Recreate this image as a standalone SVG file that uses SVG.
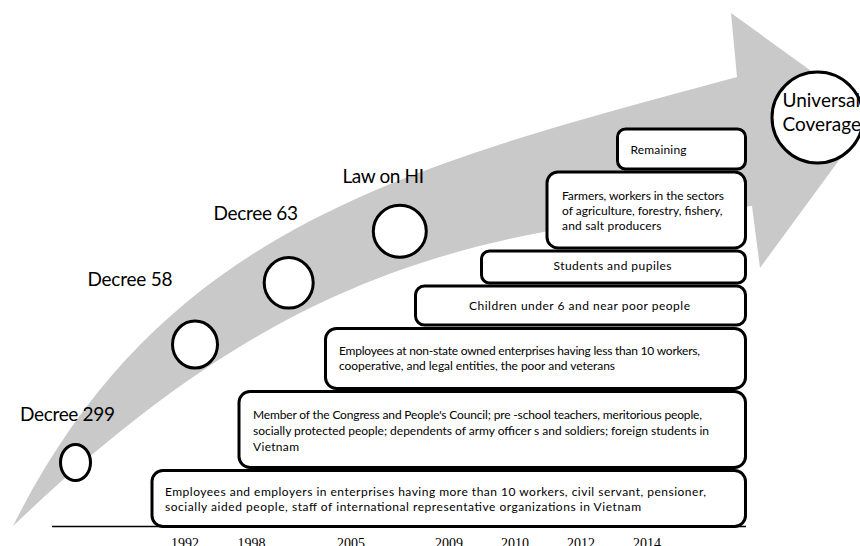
<svg xmlns="http://www.w3.org/2000/svg" width="860" height="546" viewBox="0 0 860 546">
  <style>
    .box { fill: #ffffff; stroke: #000000; stroke-width: 3; }
    .ms { fill: #ffffff; stroke: #000000; stroke-width: 3; }
    .lbl { font-family: Lato, "Liberation Sans", sans-serif; font-size: 19px; fill: #000000; }
    .bt { font-family: Lato, "Liberation Sans", sans-serif; font-size: 12px; fill: #000000; }
    .yr { font-family: "Liberation Serif", serif; font-size: 14px; fill: #000000; text-anchor: middle; }
  </style>
  <rect width="860" height="546" fill="#ffffff"/>
  <g id="connectors">
    <path id="timeline-arrow" d="M 13,526 C 163,226 407,166 737,77 L 731,13 L 872,115 L 760,268 L 752,206 C 452,230 273,279 13,526 Z" fill="#c9c9c9"/>
    <line id="axis" x1="52" y1="526.5" x2="746" y2="526.5" stroke="#000000" stroke-width="1.5"/>
  </g>
  <g id="decree-299">
    <ellipse class="ms" cx="75.5" cy="462.5" rx="15" ry="18"/>
    <text class="lbl" x="20" y="420.5" textLength="95">Decree 299</text>
  </g>
  <g id="decree-58">
    <ellipse class="ms" cx="195" cy="344.5" rx="22.5" ry="23.5"/>
    <text class="lbl" x="87.5" y="285.5" textLength="85">Decree 58</text>
  </g>
  <g id="decree-63">
    <ellipse class="ms" cx="288.7" cy="282.8" rx="24.5" ry="25.3"/>
    <text class="lbl" x="213.5" y="220" textLength="84.5">Decree 63</text>
  </g>
  <g id="law-on-hi">
    <ellipse class="ms" cx="399.8" cy="231.2" rx="26.5" ry="26"/>
    <text class="lbl" x="342.5" y="182.5" textLength="81.5">Law on HI</text>
  </g>
  <g id="box-1992">
    <rect class="box" x="152" y="470.5" width="593.5" height="56" rx="11"/>
    <text class="bt" x="165" y="495.5" textLength="541">Employees and employers in enterprises having more than 10 workers, civil servant, pensioner,</text>
    <text class="bt" x="165" y="511" textLength="476">socially aided people, staff of international representative organizations  in Vietnam</text>
  </g>
  <g id="box-1998">
    <rect class="box" x="239" y="391.5" width="506.5" height="76" rx="11"/>
    <text class="bt" x="253" y="418.5" textLength="449">Member of the Congress and People's Council; pre -school teachers, meritorious people,</text>
    <text class="bt" x="253" y="434.5" textLength="456">socially protected people; dependents of army officer s and soldiers; foreign students in</text>
    <text class="bt" x="253" y="451" textLength="46">Vietnam</text>
  </g>
  <g id="box-2005">
    <rect class="box" x="325.5" y="328.5" width="420" height="60" rx="11"/>
    <text class="bt" x="339" y="354.5" textLength="361">Employees at non-state owned enterprises having less than 10 workers,</text>
    <text class="bt" x="339" y="370" textLength="276">cooperative, and legal entities, the poor and veterans</text>
  </g>
  <g id="box-2009">
    <rect class="box" x="415.5" y="286" width="330" height="39" rx="9"/>
    <text class="bt" x="469" y="310" textLength="221">Children under  6 and near poor people</text>
  </g>
  <g id="box-2010">
    <rect class="box" x="481.5" y="251" width="264" height="32" rx="8"/>
    <text class="bt" x="553.5" y="270" textLength="118">Students  and pupiles</text>
  </g>
  <g id="box-2012">
    <rect class="box" x="547" y="172" width="198.5" height="76" rx="11"/>
    <text class="bt" x="562" y="199.5" textLength="162">Farmers, workers in the sectors</text>
    <text class="bt" x="562" y="214.5" textLength="160.5">of agriculture, forestry, fishery,</text>
    <text class="bt" x="562" y="229.5" textLength="99.5">and  salt producers</text>
  </g>
  <g id="box-2014">
    <rect class="box" x="617.5" y="129" width="128" height="40" rx="8"/>
    <text class="bt" x="630.5" y="153.5" textLength="56">Remaining</text>
  </g>
  <g id="universal-coverage">
    <ellipse class="ms" cx="817.5" cy="117.5" rx="45.5" ry="45.5"/>
    <text class="lbl" x="782.5" y="107" font-size="19">Universal</text>
    <text class="lbl" x="782.5" y="131" font-size="19">Coverage</text>
  </g>
  <g id="years">
    <text class="yr" x="185" y="548">1992</text>
    <text class="yr" x="251.5" y="548">1998</text>
    <text class="yr" x="351" y="548">2005</text>
    <text class="yr" x="449" y="548">2009</text>
    <text class="yr" x="515" y="548">2010</text>
    <text class="yr" x="581" y="548">2012</text>
    <text class="yr" x="647" y="548">2014</text>
  </g>
</svg>
